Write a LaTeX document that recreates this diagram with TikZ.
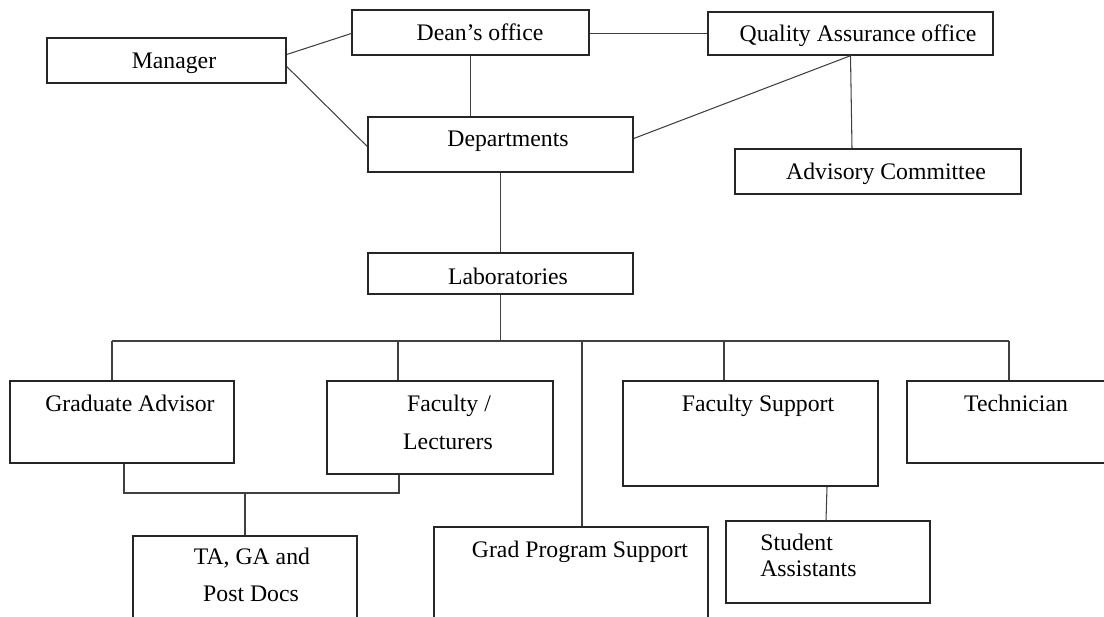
\documentclass[tikz,border=0pt]{standalone}
\usepackage{fontspec}
\setmainfont{Liberation Serif}
\usetikzlibrary{fit,calc}

\begin{document}
\begin{tikzpicture}[x=0.02cm, y=-0.02cm,
  unit/.style={draw=black!85, line width=0.8pt, inner sep=0pt},
  lbl/.style={anchor=base, inner sep=0pt, font=\fontsize{13.5}{16}\selectfont},
  link/.style={draw=black!75, line width=0.6pt}]
\useasboundingbox (0,0) rectangle (1104,616);

% top level
\node[unit, fit={(47,38) (286,83)}]    (manager)  {};
\node[unit, fit={(352,10) (589,55)}]   (dean)     {};
\node[unit, fit={(708,12) (993,55)}]   (qa)       {};
\node[unit, fit={(368,117) (633,172)}] (dept)     {};
\node[unit, fit={(735,149) (1021,194)}] (advisory) {};
\node[unit, fit={(368,253) (633,294)}] (lab)      {};

% lab staff
\node[unit, fit={(10,381) (234,463)}]   (gradadv)    {};
\node[unit, fit={(327,381) (553,474)}]  (faculty)    {};
\node[unit, fit={(623,381) (878,486)}]  (facsupport) {};
\node[unit, fit={(907,381) (1120,463)}] (technician) {};
\node[unit, fit={(133,536) (357,640)}]  (tagapd)     {};
\node[unit, fit={(434,527) (708,640)}]  (gradprog)   {};
\node[unit, fit={(726,521) (930,603)}]  (student)    {};

% labels
\node[lbl] (manager-t)  at (174,68)  {Manager};
\node[lbl] (dean-t)     at (480,40)  {Dean’s office};
\node[lbl] (qa-t)       at (858,41)  {Quality Assurance office};
\node[lbl] (dept-t)     at (508,146) {Departments};
\node[lbl] (advisory-t) at (886,179) {Advisory Committee};
\node[lbl] (lab-t)      at (508,284) {Laboratories};
\node[lbl] (gradadv-t)  at (130,411) {Graduate Advisor};
\node[lbl] (faculty-t1) at (449,411) {Faculty /};
\node[lbl] (faculty-t2) at (448,449) {Lecturers};
\node[lbl] (facsupport-t) at (758,411) {Faculty Support};
\node[lbl] (technician-t) at (1016,411) {Technician};
\node[lbl] (tagapd-t1)  at (252,564) {TA, GA and};
\node[lbl] (tagapd-t2)  at (251,601) {Post Docs};
\node[lbl] (gradprog-t) at (580,557) {Grad Program Support};
\node[lbl, anchor=base west] (student-t1) at (760,550) {Student};
\node[lbl, anchor=base west] (student-t2) at (760,576) {Assistants};

% links between offices
\draw[link] ($(manager.east)+(0,-6)$) -- ($(dean.west)+(0,1)$);
\draw[link] ($(manager.east)+(0,6)$) -- ($(dept.west)+(0,2)$);
\draw[link] (dean.east |- qa.west) -- (qa.west);
\draw[link] (dean.south) -- (dean.south |- dept.north);
\draw[link] (qa.south) -- ($(dept.east)+(0,-6)$);
\draw[link] (qa.south) -- ($(advisory.north)+(-26,0)$);
\draw[link] (dept.south) -- (lab.north);

% bus under the laboratories
\coordinate (hub)   at (lab.south |- 0,341);
\coordinate (bus-w) at (112,341);
\coordinate (bus-e) at (1009,341);
\draw[link] (lab.south) -- (hub);
\draw[link] (bus-w) -- (bus-e);
\foreach \x/\n in {112/gradadv, 398/faculty, 582/gradprog, 724/facsupport, 1009/technician}
  \draw[link] (\x,341) -- (\x,341 |- \n.north);

% assistants below
\coordinate (merge) at (245,493);
\draw[link] (gradadv.south -| 124,0) |- (merge) -| (faculty.south -| 399,0);
\draw[link] (merge) -- (merge |- tagapd.north);
\draw[link] (facsupport.south -| 827,0) -- (student.north -| 826,0);
\end{tikzpicture}
\end{document}
